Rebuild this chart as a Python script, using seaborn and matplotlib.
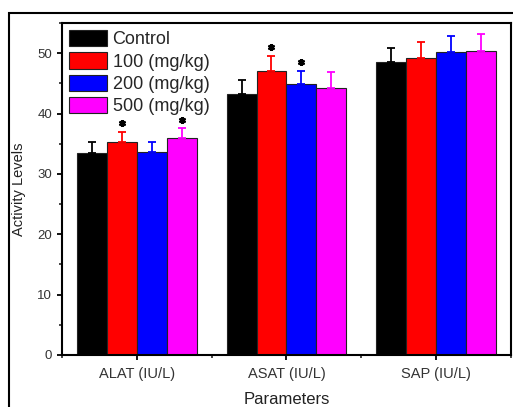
import matplotlib
matplotlib.use("Agg")
import matplotlib.pyplot as plt
import pandas as pd
import seaborn as sns
from matplotlib.patches import Rectangle
from matplotlib.ticker import MultipleLocator, FixedLocator

parameters = ["ALAT (IU/L)", "ASAT (IU/L)", "SAP (IU/L)"]
doses = ["Control", "100 (mg/kg)", "200 (mg/kg)", "500 (mg/kg)"]
colors = ["#000000", "#ff0000", "#0000ff", "#ff00ff"]

control = [33.4, 43.3, 48.5]
dose_100 = [35.3, 47.1, 49.2]
dose_200 = [33.6, 44.9, 50.2]
dose_500 = [36.0, 44.3, 50.4]

control_err = [1.9, 2.2, 2.3]
dose_100_err = [1.7, 2.5, 2.6]
dose_200_err = [1.7, 2.2, 2.6]
dose_500_err = [1.6, 2.5, 2.7]

# significance markers (*) per dose group
control_sig = [False, False, False]
dose_100_sig = [True, True, False]
dose_200_sig = [False, True, False]
dose_500_sig = [True, False, False]

values = [control, dose_100, dose_200, dose_500]
errors = [control_err, dose_100_err, dose_200_err, dose_500_err]
signif = [control_sig, dose_100_sig, dose_200_sig, dose_500_sig]

df = pd.DataFrame(
    [
        {"parameter": p, "dose": d, "value": v}
        for d, vals in zip(doses, values)
        for p, v in zip(parameters, vals)
    ]
)

sns.set_style("ticks")
plt.rcParams["font.family"] = ["Liberation Sans", "DejaVu Sans"]

fig = plt.figure(figsize=(5.13, 4.07), dpi=100)
ax = fig.add_axes([0.1209, 0.1278, 0.875, 0.8157])

sns.barplot(
    data=df,
    x="parameter",
    y="value",
    hue="dose",
    palette=colors,
    saturation=1,
    errorbar=None,
    width=0.8,
    edgecolor="#222222",
    linewidth=0.8,
    ax=ax,
)

for container, errs, sigs, color in zip(ax.containers, errors, signif, colors):
    for bar, err, sig in zip(container, errs, sigs):
        cx = bar.get_x() + bar.get_width() / 2
        top = bar.get_height()
        ax.errorbar(cx, top, yerr=[[0], [err]], color=color, capsize=2.8,
                    elinewidth=1.3, capthick=1.3, zorder=1)
        if sig:
            ax.plot(cx, top + err + 1.4, marker=(6, 2, 0), color="black",
                    markersize=5, markeredgewidth=1.6, zorder=5)

ax.set_ylim(0, 55)
ax.set_xlim(-0.5, 2.5)
ax.yaxis.set_major_locator(MultipleLocator(10))
ax.yaxis.set_minor_locator(MultipleLocator(5))
ax.xaxis.set_minor_locator(FixedLocator([-0.5, 0.5, 1.5, 2.5]))

for spine in ax.spines.values():
    spine.set_visible(True)
    spine.set_linewidth(1.5)
    spine.set_color("black")

ax.tick_params(axis="y", which="major", direction="out", length=3.5, width=1.3,
               labelsize=9.5, colors="black", labelcolor="#333333")
ax.tick_params(axis="x", which="major", direction="out", length=3.5, width=1.3,
               labelsize=10.5, pad=5, colors="black", labelcolor="#333333")
ax.tick_params(axis="both", which="minor", direction="out", length=2.5, width=1.2)

ax.set_xlabel("")
ax.set_ylabel("Activity Levels", fontsize=10.5, labelpad=8, color="#222222")
fig.text(0.5585, 3.5 / 407, "Parameters", fontsize=12, ha="center", va="baseline",
         color="#222222")

ax.legend(
    loc="upper left",
    bbox_to_anchor=(0.0, 1.0),
    frameon=False,
    fontsize=13,
    handlelength=2.1,
    handleheight=1.0,
    labelspacing=0.22,
    handletextpad=0.3,
    borderpad=0.2,
    borderaxespad=0.2,
)

fig.add_artist(Rectangle((0.0166, -0.1), 1.2, 0.969 + 0.1, transform=fig.transFigure,
                         fill=False, edgecolor="black", linewidth=1.5))

fig.savefig("out.png", dpi=100)
